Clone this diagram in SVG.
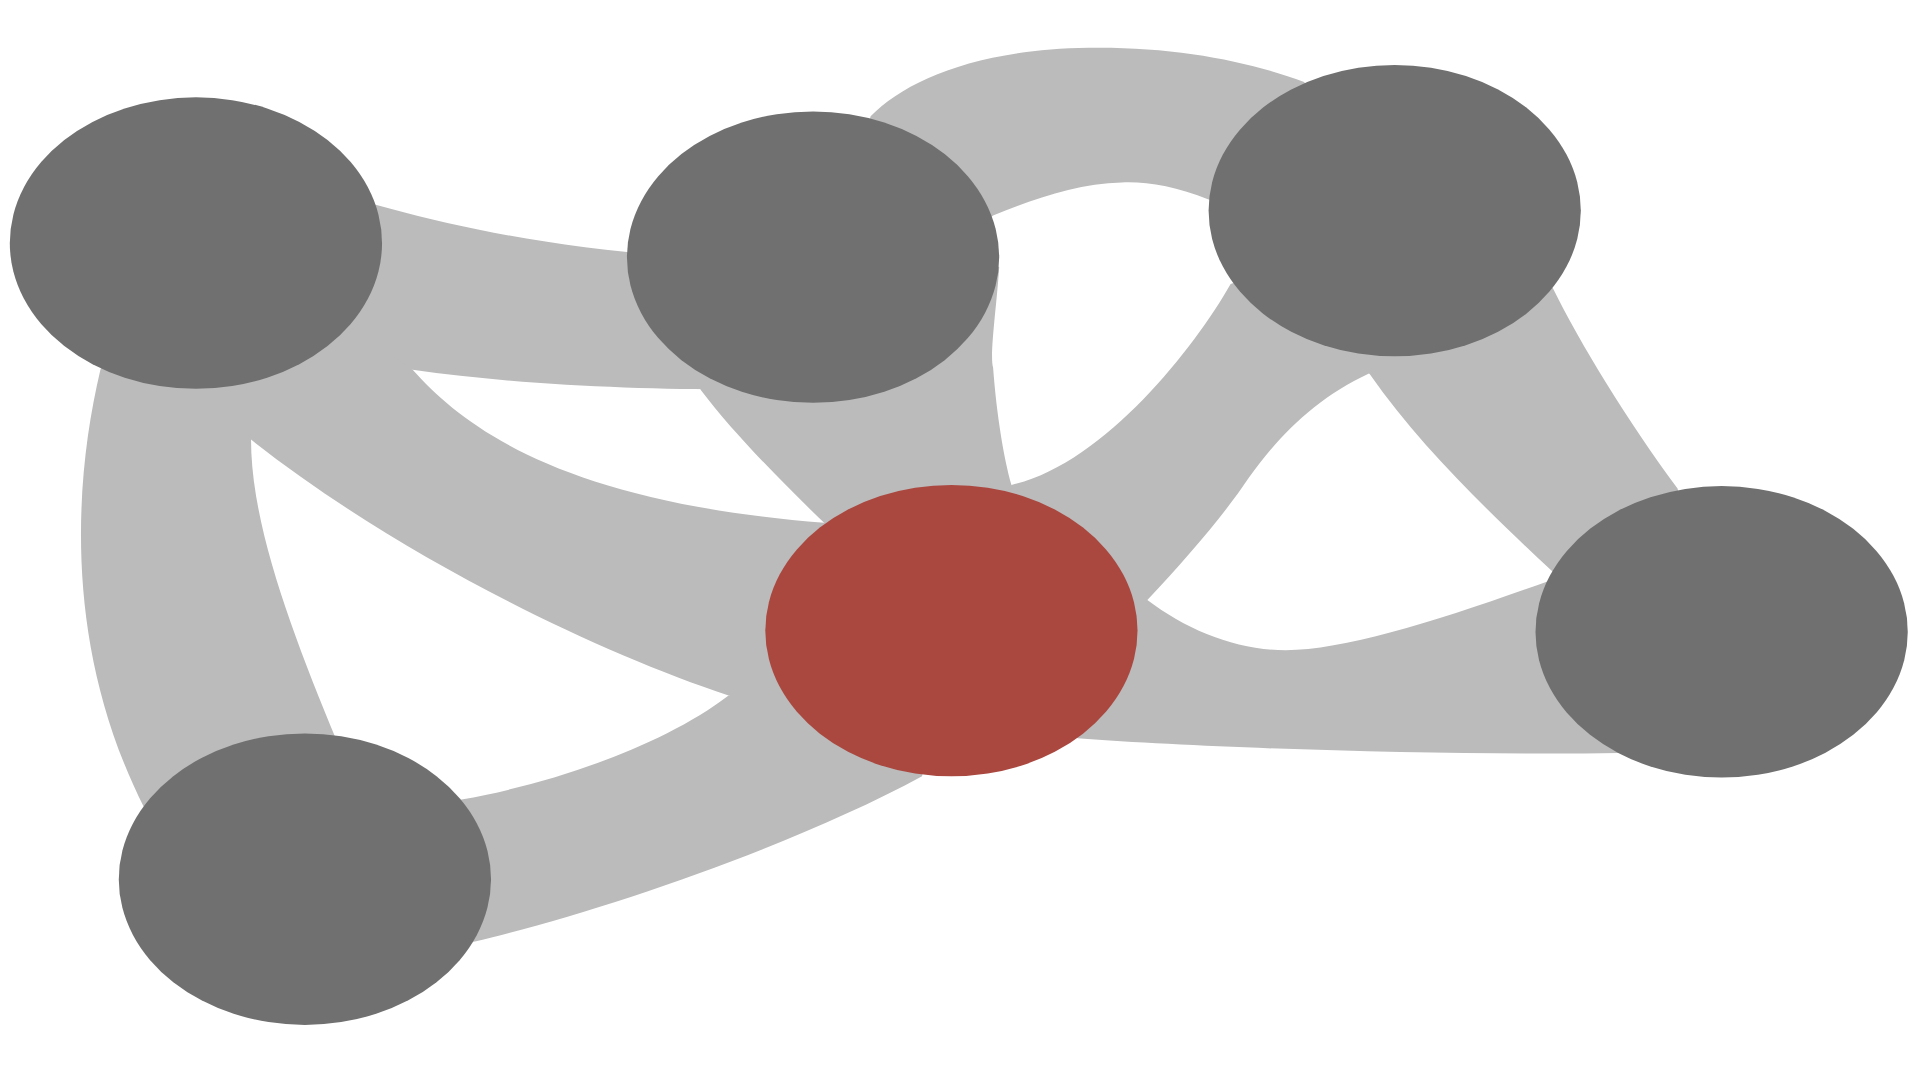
<svg xmlns="http://www.w3.org/2000/svg" width="1920" height="1080" viewBox="0 0 1920 1080">
<style>
.band{fill:#BBBBBB;stroke:none}
.node{fill:#707070}
.hub{fill:#AA4840}
</style>
<rect width="1920" height="1080" fill="#FFFFFF"/>
<g transform="scale(1.22449)">
<g id="connectors">
<path id="e-a-b" class="band" d="M230,145 C330,175 430,205 600,212 L600,318 C520,318 420,314 337,302 L240,280 Z"/>
<path id="e-a-e" class="band" d="M260,250 L337,302 C380,350 460,410 673,427 L710,440 L710,560 L595,568 C480,530 320,450 205,359 L160,300 Z"/>
<path id="e-a-f" class="band" d="M90,280 L82,302 C60,395 52,530 118,660 L150,700 L285,650 L275,605 C240,520 205,430 205,359 L200,300 Z"/>
<path id="e-f-e" class="band" d="M330,660 L377,653 C450,640 540,610 595,568 L700,540 L760,600 L753,634 C650,690 490,745 387,769 L330,760 Z"/>
<path id="e-b-c" class="band" d="M700,140 L711,95 C740,65 800,40 889,39 C960,38 1020,50 1065,67 L1100,120 L1050,170 L987,163 C960,152 935,148 916,149 C880,150 845,162 811,176 L780,200 Z"/>
<path id="e-b-e" class="band" d="M600,260 L790,210 L816,218 C814,250 808,290 811,300 C814,340 820,375 826,396 L838,422 L800,450 L720,460 L673,427 C640,395 600,355 572,318 Z"/>
<path id="e-c-e" class="band" d="M1040,220 L1005,232 C975,285 900,380 826,396 L812,422 L850,440 L880,500 L937,490 C970,455 1000,420 1020,390 C1045,355 1075,325 1118,305 L1145,300 L1130,250 Z"/>
<path id="e-c-d" class="band" d="M1115,260 L1240,230 L1268,235 C1290,280 1330,345 1370,399 L1380,440 L1300,500 L1267,466 C1220,422 1160,365 1119,306 L1108,292 Z"/>
<path id="e-e-d" class="band" d="M900,480 L937,490 C970,515 1010,531 1050,531 C1100,531 1180,505 1266,474 L1300,480 L1350,590 L1322,615 C1200,617 1000,612 880,603 L860,580 Z"/>
</g>
<g id="node-a"><ellipse class="node" cx="160" cy="198.5" rx="152" ry="119"/></g>
<g id="node-b"><ellipse class="node" cx="664" cy="210" rx="152" ry="119"/></g>
<g id="node-c"><ellipse class="node" cx="1139" cy="172" rx="152" ry="119"/></g>
<g id="node-d"><ellipse class="node" cx="1406" cy="516" rx="152" ry="119"/></g>
<g id="node-e"><ellipse class="hub" cx="777" cy="515" rx="152" ry="119"/></g>
<g id="node-f"><ellipse class="node" cx="249" cy="718" rx="152" ry="119"/></g>
</g>
</svg>
